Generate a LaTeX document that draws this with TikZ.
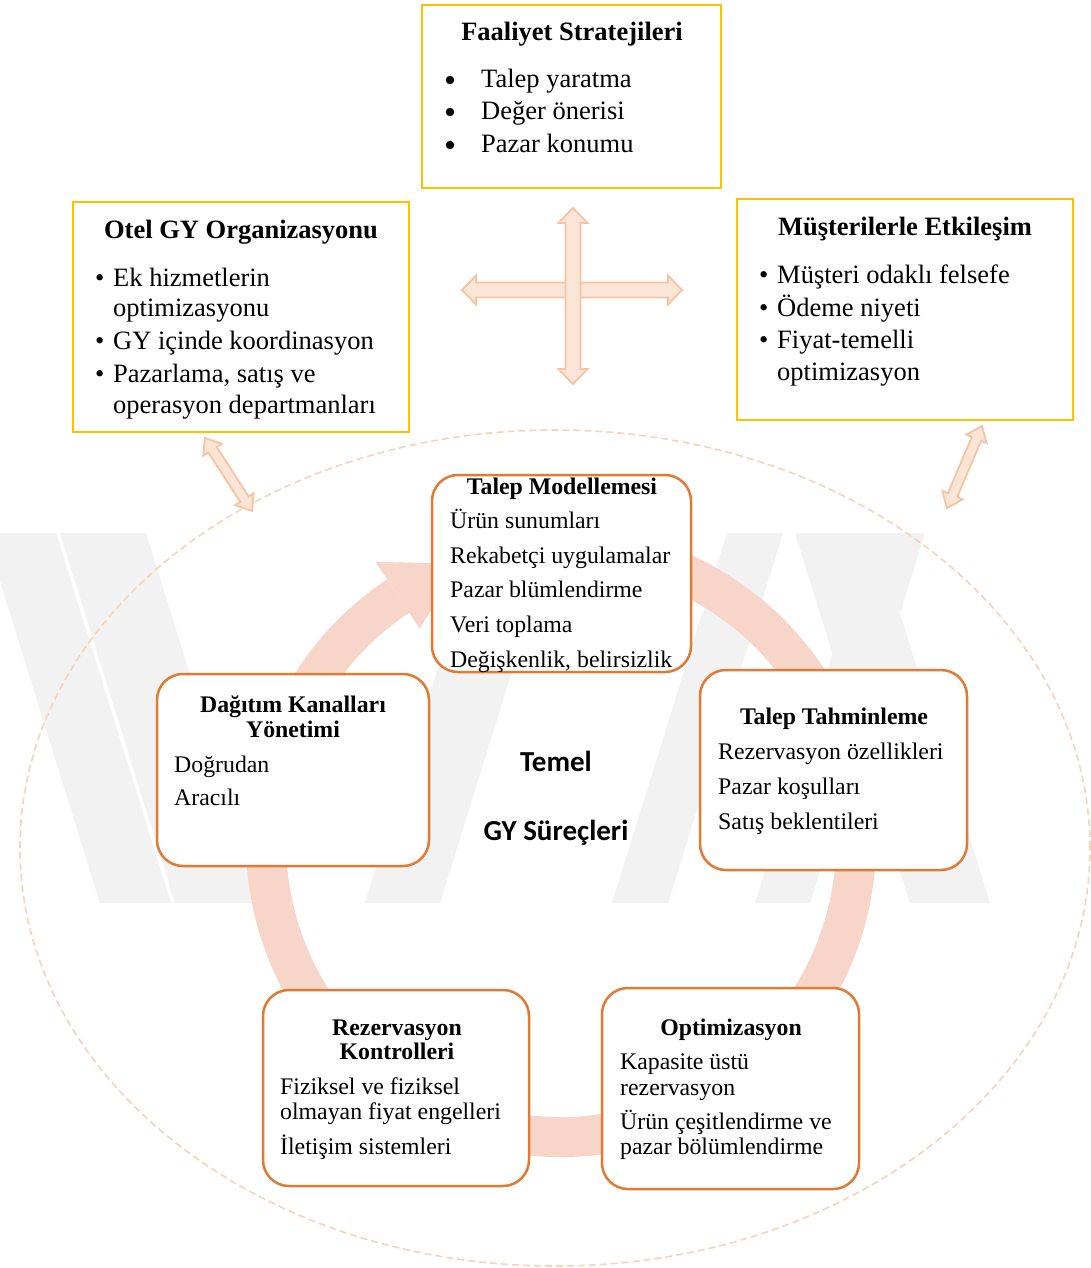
\documentclass[tikz,border=0pt]{standalone}
\usepackage{fontspec}
\setmainfont{Liberation Serif}
\newfontfamily\calibri{Carlito}
\usetikzlibrary{calc}

\definecolor{yel}{RGB}{255,192,0}
\definecolor{org}{RGB}{226,122,52}
\definecolor{bandc}{RGB}{247,214,201}
\definecolor{ellc}{RGB}{249,210,186}
\definecolor{arrfill}{RGB}{251,229,214}
\definecolor{arrline}{RGB}{247,196,162}
\definecolor{wmark}{RGB}{242,242,242}

% block double arrow along the local x axis: length, shaft half width, head half width, head length
\newcommand\blockdbl[4]{(0,0) -- (#4,#3) -- (#4,#2) -- ({#1-#4},#2) -- ({#1-#4},#3) -- (#1,0)
  -- ({#1-#4},-#3) -- ({#1-#4},-#2) -- (#4,-#2) -- (#4,-#3) -- cycle}
% slanted background bar: top left, top right, bottom left, bottom right x positions
\newcommand\wbar[4]{\fill[wmark] (#1,-533) -- (#2,-533) -- (#4,-903) -- (#3,-903) -- cycle;}

\tikzset{
  ybox/.style={draw=yel, line width=2.5pt, fill=white, inner sep=0pt},
  obox/.style={draw=org, line width=2.5pt, fill=white, rounded corners=26pt, inner sep=0pt},
  big/.style={font=\fontsize{26.5}{32}\selectfont, inner sep=0pt, anchor=base west},
  bigt/.style={font=\bfseries\fontsize{26.5}{32}\selectfont, inner sep=0pt, anchor=base},
  bullet/.style={circle, fill=black, inner sep=0pt, minimum size=8.5pt},
  sm/.style={font=\fontsize{23.8}{28}\selectfont, inner sep=0pt, anchor=base west},
  smt/.style={font=\bfseries\fontsize{23.8}{28}\selectfont, inner sep=0pt, anchor=base},
  mid/.style={font=\calibri\bfseries\fontsize{29}{35}\selectfont, inner sep=0pt, anchor=base},
  blockarrow/.style={fill=arrfill, draw=arrline, line width=1.8pt, line join=miter},
}

\begin{document}
\begin{tikzpicture}[x=1pt,y=1pt]
\useasboundingbox (0,0) rectangle (1091,-1268);
\fill[white] (0,0) rectangle (1091,-1268);

% faint background emblem
\begin{scope}
\clip (0,0) rectangle (1091,-1268);
\wbar{-15}{56}{100}{171}
\wbar{60}{146}{175}{261}
\wbar{480}{555}{365}{440}
\wbar{727}{783}{612}{668}
\wbar{795}{875}{910}{990}
\wbar{870}{925}{755}{810}
\end{scope}

% dashed outer ellipse
\coordinate (E) at (555,-848);
\draw[ellc, line width=1.6pt, dash pattern=on 7pt off 4pt] (E) ellipse[x radius=535, y radius=418];

% cycle band with its arrow head
\coordinate (C) at (561,-842);
\draw[bandc, line width=40pt] ($(C)+(100:295)$) arc[start angle=100, end angle=-236.5, radius=295];
\fill[bandc] ($(C)+(123.5:256)$) -- ($(C)+(110:296)$) -- ($(C)+(123.5:336)$) -- cycle;

% top boxes
\node[ybox, minimum width=299pt, minimum height=183pt] (fs) at (571.5,-96.5) {};
\node[ybox, minimum width=336pt, minimum height=230pt] (og) at (241,-317) {};
\node[ybox, minimum width=336pt, minimum height=221pt] (me) at (905,-309.5) {};

% process boxes
\node[obox, minimum width=259pt, minimum height=197pt] (tm) at (561.5,-573.5) {};
\node[obox, minimum width=272pt, minimum height=192pt] (dk) at (293,-770) {};
\node[obox, minimum width=267pt, minimum height=200pt] (tt) at (833.5,-770) {};
\node[obox, minimum width=266pt, minimum height=196pt] (rk) at (396,-1088) {};
\node[obox, minimum width=257pt, minimum height=201pt] (op) at (730.5,-1088.5) {};

% Faaliyet Stratejileri
\node[bigt] (fst) at (572,-41) {Faaliyet Stratejileri};
\node[bullet] (fsb1) at (450,-80) {};
\node[bullet] (fsb2) at (450,-112) {};
\node[bullet] (fsb3) at (450,-145) {};
\node[big] (fs1) at (481,-88) {Talep yaratma};
\node[big] (fs2) at (481,-120) {Değer önerisi};
\node[big] (fs3) at (481,-153) {Pazar konumu};

% Otel GY Organizasyonu
\node[bigt] (ogt) at (241,-238) {Otel GY Organizasyonu};
\node[big] (ogb1) at (95,-286) {\textbullet};
\node[big] (ogb2) at (95,-349) {\textbullet};
\node[big] (ogb3) at (95,-382) {\textbullet};
\node[big] (og1) at (113,-286) {Ek hizmetlerin};
\node[big] (og2) at (113,-316) {optimizasyonu};
\node[big] (og3) at (113,-349) {GY içinde koordinasyon};
\node[big] (og4) at (113,-382) {Pazarlama, satış ve};
\node[big] (og5) at (113,-413) {operasyon departmanları};

% Müşterilerle Etkileşim
\node[bigt] (met) at (905,-235) {Müşterilerle Etkileşim};
\node[big] (meb1) at (759,-283) {\textbullet};
\node[big] (meb2) at (759,-316) {\textbullet};
\node[big] (meb3) at (759,-348) {\textbullet};
\node[big] (me1) at (777,-283) {Müşteri odaklı felsefe};
\node[big] (me2) at (777,-316) {Ödeme niyeti};
\node[big] (me3) at (777,-348) {Fiyat-temelli};
\node[big] (me4) at (777,-380) {optimizasyon};

% Talep Modellemesi
\node[smt] (tmt) at (562,-494) {Talep Modellemesi};
\node[sm] (tm1) at (450,-528) {Ürün sunumları};
\node[sm] (tm2) at (450,-563) {Rekabetçi uygulamalar};
\node[sm] (tm3) at (450,-597) {Pazar blümlendirme};
\node[sm] (tm4) at (450,-632) {Veri toplama};
\node[sm] (tm5) at (450,-667) {Değişkenlik, belirsizlik};

% Dağıtım Kanalları Yönetimi
\node[smt] (dkt1) at (293,-712) {Dağıtım Kanalları};
\node[smt] (dkt2) at (293,-737) {Yönetimi};
\node[sm] (dk1) at (174,-772) {Doğrudan};
\node[sm] (dk2) at (174,-805) {Aracılı};

% Talep Tahminleme
\node[smt] (ttt) at (834,-724) {Talep Tahminleme};
\node[sm] (tt1) at (718,-759) {Rezervasyon özellikleri};
\node[sm] (tt2) at (718,-794) {Pazar koşulları};
\node[sm] (tt3) at (718,-829) {Satış beklentileri};

% Rezervasyon Kontrolleri
\node[smt] (rkt1) at (397,-1035) {Rezervasyon};
\node[smt] (rkt2) at (397,-1059) {Kontrolleri};
\node[sm] (rk1) at (280,-1094) {Fiziksel ve fiziksel};
\node[sm] (rk2) at (280,-1119) {olmayan fiyat engelleri};
\node[sm] (rk3) at (280,-1154) {İletişim sistemleri};

% Optimizasyon
\node[smt] (opt) at (731,-1035) {Optimizasyon};
\node[sm] (op1) at (620,-1069) {Kapasite üstü};
\node[sm] (op2) at (620,-1095) {rezervasyon};
\node[sm] (op3) at (620,-1129) {Ürün çeşitlendirme ve};
\node[sm] (op4) at (620,-1154) {pazar bölümlendirme};

% centre label
\node[mid] (cl1) at (556,-771) {Temel};
\node[mid] (cl2) at (556,-840) {GY Süreçleri};

% block arrows between the boxes
\coordinate (crW) at (462,-290);
\coordinate (crN) at (573,-208);
\coordinate (lA) at (205,-438);
\coordinate (rA) at (982,-426);
\draw[blockarrow, shift={(crW)}] \blockdbl{220}{7.5}{14.5}{14};
\draw[blockarrow, shift={(crN)}, rotate=-90] \blockdbl{176}{7.5}{14.5}{15};
\draw[blockarrow, shift={(lA)}, rotate=-57.2] \blockdbl{86.8}{5}{11}{14};
\draw[blockarrow, shift={(rA)}, rotate=-113.1] \blockdbl{89.2}{5}{11}{14};
\end{tikzpicture}
\end{document}
